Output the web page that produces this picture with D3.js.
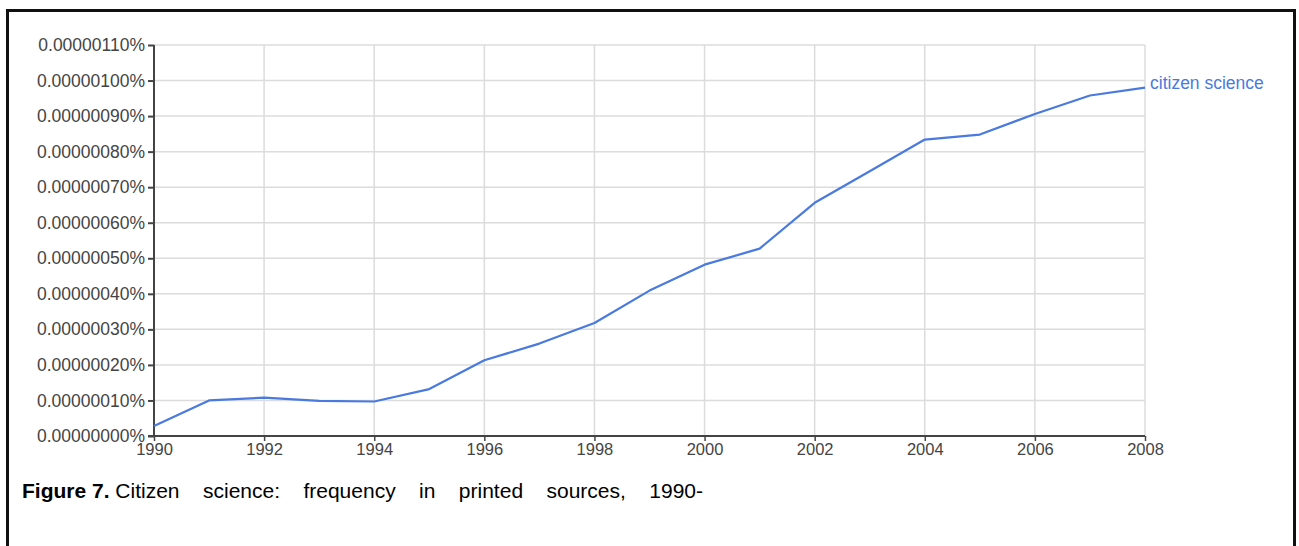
<!DOCTYPE html>
<html>
<head>
<meta charset="utf-8">
<script src="https://cdn.jsdelivr.net/npm/d3@7"></script>
<style>
  html, body { margin: 0; padding: 0; background: #fff; }
  svg { display: block; }
</style>
</head>
<body>
<svg id="chart" width="1299" height="546"></svg>
<script>
// Data (values in units of 1e-7 percent)
const years = [1990,1991,1992,1993,1994,1995,1996,1997,1998,1999,2000,2001,2002,2003,2004,2005,2006,2007,2008];
const values = [0.28,1.00,1.08,0.99,0.97,1.32,2.13,2.60,3.18,4.09,4.82,5.27,6.56,7.45,8.34,8.48,9.06,9.58,9.80];
const seriesName = "citizen science";
const yTicks = [0,1,2,3,4,5,6,7,8,9,10,11];
const xTicks = [1990,1992,1994,1996,1998,2000,2002,2004,2006,2008];
const captionBold = "Figure 7.";
const captionText = "Citizen science: frequency in printed sources, 1990-";

const svg = d3.select("#chart");

// outer frame
svg.append("rect")
  .attr("x", 7.5).attr("y", 10.5)
  .attr("width", 1287).attr("height", 560)
  .attr("fill", "none").attr("stroke", "#111").attr("stroke-width", 3);

const x = d3.scaleLinear().domain([1990, 2008]).range([154, 1145]);
const y = d3.scaleLinear().domain([0, 11]).range([436, 45]);

const font = "'Liberation Sans', Arial, sans-serif";

// gridlines
const grid = svg.append("g");
grid.selectAll("line.h").data(yTicks.filter(d => d > 0)).join("line")
  .attr("x1", x(1990)).attr("x2", x(2008))
  .attr("y1", d => y(d)).attr("y2", d => y(d))
  .attr("stroke", "#dcdcdc").attr("stroke-width", 1.5);
grid.selectAll("line.v").data(xTicks.filter(d => d > 1990)).join("line")
  .attr("x1", d => x(d)).attr("x2", d => x(d))
  .attr("y1", y(11)).attr("y2", y(0))
  .attr("stroke", "#dcdcdc").attr("stroke-width", 1.5);

// axes
const fmt = d => (d * 1e-7).toFixed(8) + "%";
const yAxis = d3.axisLeft(y).tickValues(yTicks).tickFormat(fmt).tickSize(6).tickPadding(3);
const gy = svg.append("g").attr("transform", `translate(${x(1990)},0)`).call(yAxis);
gy.attr("font-size", null).attr("font-family", null);
gy.select(".domain").attr("stroke", "#444").attr("stroke-width", 2).attr("d", `M0,${y(11)}V${y(0)}`);
gy.selectAll(".tick line").attr("stroke", "#444").attr("stroke-width", 2);
gy.selectAll(".tick text").attr("fill", "#444").style("font-family", font).style("font-size", "17.5px");

const xAxis = d3.axisBottom(x).tickValues(xTicks).tickFormat(d3.format("d")).tickSize(5).tickPadding(2);
const gx = svg.append("g").attr("transform", `translate(0,${y(0)})`).call(xAxis);
gx.attr("font-size", null).attr("font-family", null);
gx.select(".domain").attr("stroke", "#444").attr("stroke-width", 2).attr("d", `M${x(1990)-6},0H${x(2008)}`);
gx.selectAll(".tick line").attr("stroke", "#444").attr("stroke-width", 1.5);
gx.selectAll(".tick text").attr("fill", "#444").style("font-family", font).style("font-size", "16.5px");

// line
const data = years.map((yr, i) => ({yr, v: values[i]}));
const line = d3.line().x(d => x(d.yr)).y(d => y(d.v));
svg.append("path").datum(data)
  .attr("d", line)
  .attr("fill", "none").attr("stroke", "#4a7adf").attr("stroke-width", 2.2)
  .attr("stroke-linejoin", "round");

// series label
const last = data[data.length - 1];
svg.append("text")
  .attr("x", x(last.yr) + 5).attr("y", y(last.v) - 3)
  .attr("dominant-baseline", "middle")
  .attr("fill", "#4a7adf")
  .style("font-family", font).style("font-size", "17.5px")
  .text(seriesName);

// caption
const cap = svg.append("text")
  .attr("x", 22).attr("y", 498)
  .attr("fill", "#000")
  .attr("xml:space", "preserve")
  .style("white-space", "pre")
  .style("font-family", font).style("font-size", "21px");
cap.append("tspan").attr("font-weight", "bold").text(captionBold + " ");
const rest = cap.append("tspan").text(captionText);
// justify the remaining words to fill the target width
const targetRight = 703;
const bb = cap.node().getBBox();
const nSpaces = captionText.split(" ").length - 1;
const extra = (targetRight - (bb.x + bb.width)) / nSpaces;
rest.style("word-spacing", extra + "px");
</script>
</body>
</html>
